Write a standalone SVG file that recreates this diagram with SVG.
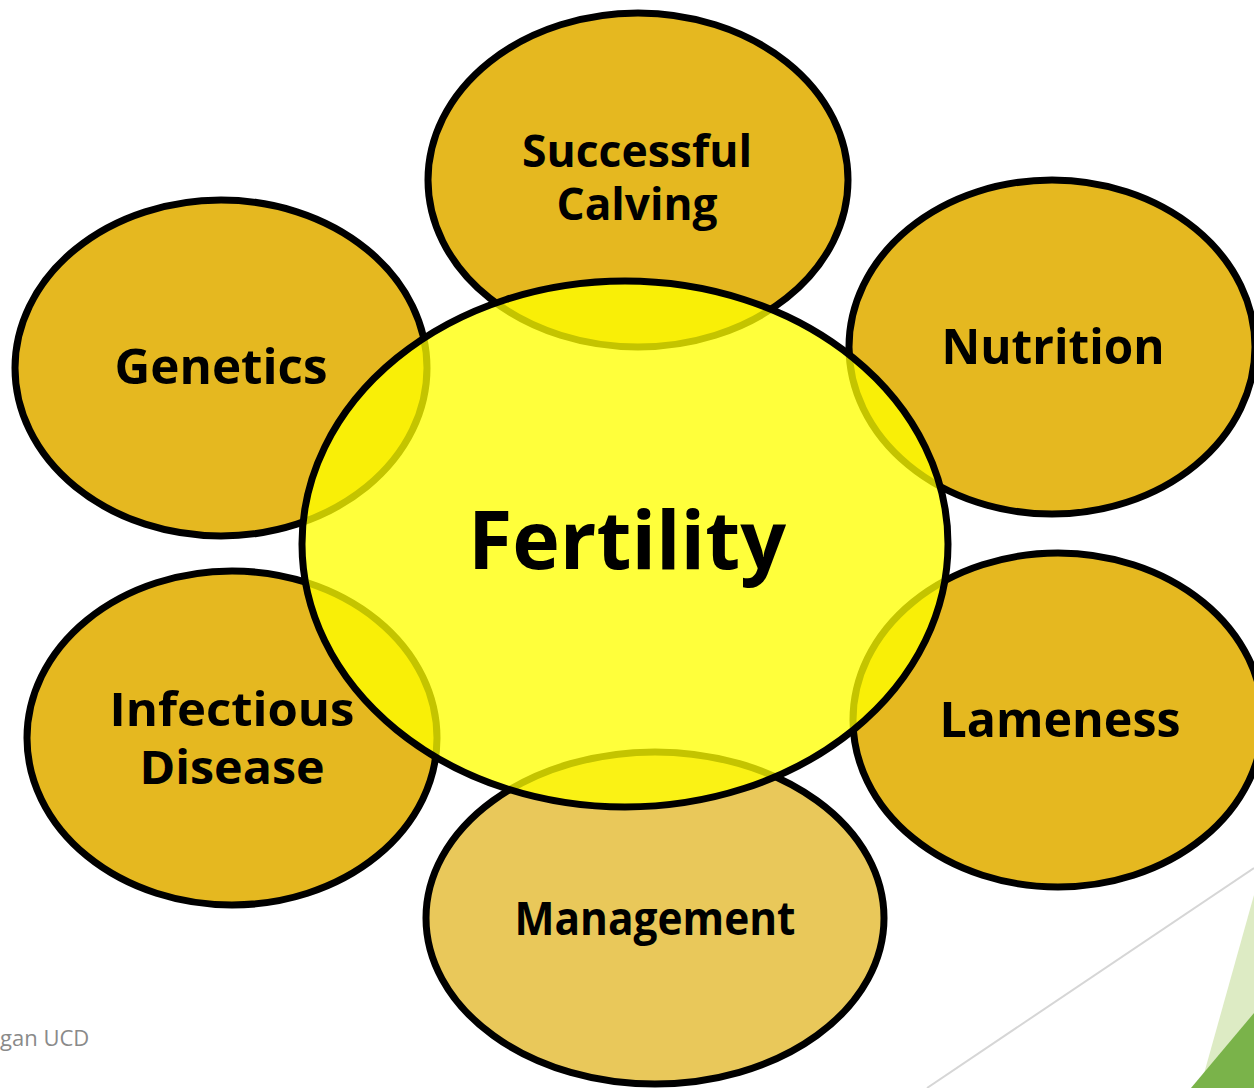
<svg xmlns="http://www.w3.org/2000/svg" width="1254" height="1088" viewBox="0 0 1254 1088">
<style>
.outer{fill:#E5B820;stroke:#000;stroke-width:7}
.mgmt{fill:#E9C85A}
.center{fill:#FFFF00;fill-opacity:0.77;stroke:#000;stroke-width:7}
.lbl{font-family:"Open Sans","DejaVu Sans",sans-serif;font-weight:bold;fill:#000;text-anchor:middle}
</style>
<rect width="1254" height="1088" fill="#fff"/>
<g id="decor">
<line x1="927" y1="1088" x2="1254" y2="868" stroke="#D6D6D6" stroke-width="2"/>
<polygon points="1254,895 1254,1088 1200,1088" fill="#DDEBC4"/>
<polygon points="1254,1013 1254,1088 1191,1088" fill="#7AB34A"/>
<text x="0" y="1046" font-family="Open Sans, sans-serif" font-size="22" fill="#8A8A8A">gan UCD</text>
</g>
<g id="calving">
<ellipse class="outer" cx="638" cy="180" rx="210" ry="167"/>
<text class="lbl" x="637" y="167" font-size="44" textLength="230" lengthAdjust="spacingAndGlyphs">Successful</text>
<text class="lbl" x="637" y="220" font-size="44" textLength="161" lengthAdjust="spacingAndGlyphs">Calving</text>
</g>
<g id="genetics">
<ellipse class="outer" cx="221" cy="368" rx="206" ry="168"/>
<text class="lbl" x="221" y="384" font-size="49" textLength="213" lengthAdjust="spacingAndGlyphs">Genetics</text>
</g>
<g id="nutrition">
<ellipse class="outer" cx="1052" cy="347" rx="203" ry="167"/>
<text class="lbl" x="1053" y="364" font-size="49" textLength="223" lengthAdjust="spacingAndGlyphs">Nutrition</text>
</g>
<g id="lameness">
<ellipse class="outer" cx="1058" cy="720" rx="205" ry="167"/>
<text class="lbl" x="1060" y="737" font-size="49" textLength="241" lengthAdjust="spacingAndGlyphs">Lameness</text>
</g>
<g id="infectious">
<ellipse class="outer" cx="232" cy="738" rx="205" ry="167"/>
<text class="lbl" x="232" y="726" font-size="47" textLength="245" lengthAdjust="spacingAndGlyphs">Infectious</text>
<text class="lbl" x="232" y="784" font-size="47" textLength="185" lengthAdjust="spacingAndGlyphs">Disease</text>
</g>
<g id="management">
<ellipse class="outer mgmt" cx="655" cy="918" rx="229" ry="166"/>
<text class="lbl" x="655" y="935" font-size="46" textLength="281" lengthAdjust="spacingAndGlyphs">Management</text>
</g>
<g id="fertility">
<ellipse class="center" cx="625" cy="544" rx="323" ry="263"/>
<text class="lbl" x="627" y="569" font-size="81" textLength="318" lengthAdjust="spacingAndGlyphs">Fertility</text>
</g>
<g id="connectors"/>
</svg>
